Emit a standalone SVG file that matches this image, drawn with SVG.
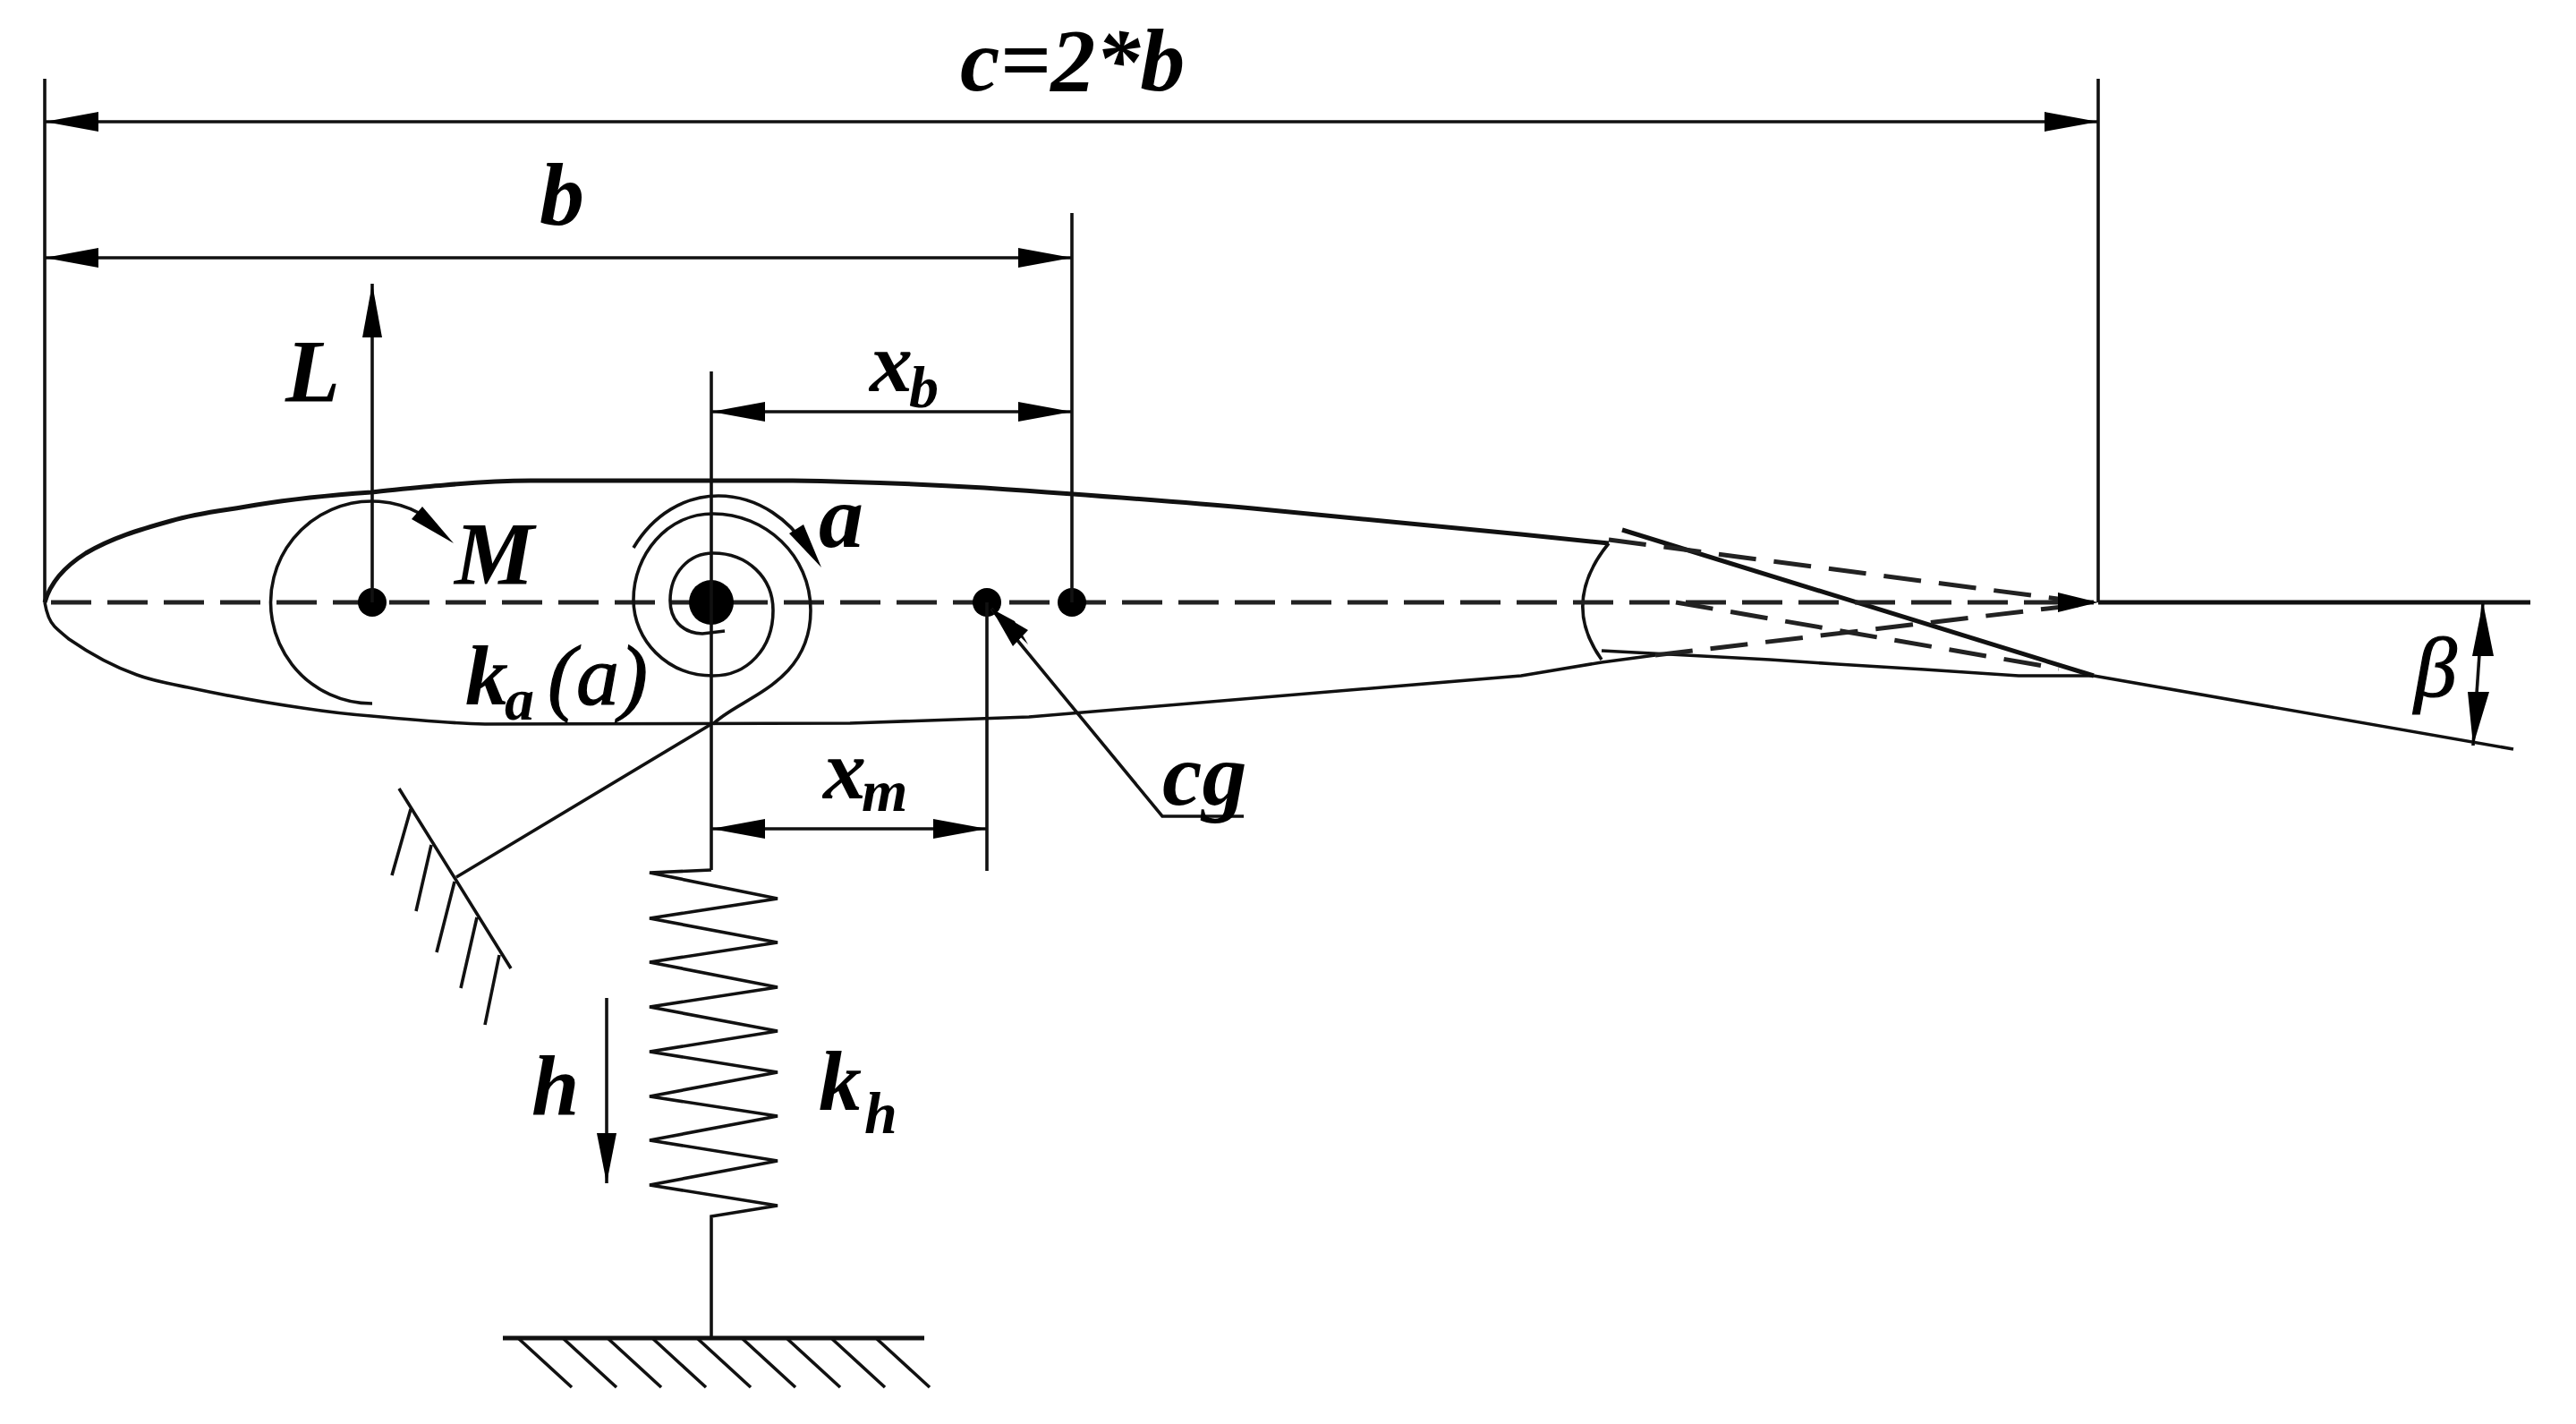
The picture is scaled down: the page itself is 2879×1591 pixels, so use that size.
<svg xmlns="http://www.w3.org/2000/svg" width="2879" height="1591" viewBox="0 0 2879 1591">
<style>
.l{fill:none;stroke:#111;stroke-width:3.6}
.t{fill:none;stroke:#111;stroke-width:5}
.d{fill:none;stroke:#222;stroke-width:5;stroke-dasharray:42 20}
.f{fill:#000;stroke:none}
text{font-family:"Liberation Serif",serif;font-style:italic;font-weight:bold;fill:#000;font-size:100px}
.s{font-size:66px}
.m{font-size:96px}
.n{font-weight:normal;stroke:#000;stroke-width:1.2}
</style>
<defs>
<marker id="a" markerUnits="userSpaceOnUse" markerWidth="60" markerHeight="22" refX="60" refY="11" orient="auto-start-reverse" viewBox="0 0 60 22"><path d="M0 0L60 11L0 22Z" fill="#000"/></marker>
<marker id="c" markerUnits="userSpaceOnUse" markerWidth="56" markerHeight="22" refX="56" refY="11" orient="auto" viewBox="0 0 56 22"><path d="M0 0L56 11L0 22Z" fill="#000"/></marker>
</defs>
<rect width="2879" height="1591" fill="#fff"/>
<g id="airfoil">
<path class="t" d="M50 673C56 652 72 633 96 618C125 601 155 592 191 582C225 572 256 570 287 564C330 557 372 553 415 550C445 547 470 544 497 542C530 539 560 537 593 537L886 537C960 538 1030 541 1100 545C1200 552 1300 559 1400 568L1700 597L1798 607"/>
<path class="l" d="M50 673C52 685 55 694 61 700C66 705 71 709 77 714C100 730 125 744 153 754C172 761 190 764 210 768C252 777 295 785 338 791C364 795 389 798 415 800C457 804 500 808 542 809L950 808L1150 801L1700 755L1790 740L1850 732"/>
</g>
<g id="flap">
<path class="l" d="M1798 607Q1744 673 1790 737"/>
<path class="t" d="M1813 592L2340 755"/>
<path class="l" d="M2340 755L2809 837"/>
<path class="l" d="M1790 727L1903 733L1978 737L2053 742L2151 748L2256 755L2340 755"/>
<path class="d" d="M1798 603L2330 673"/>
<path class="d" d="M1850 732L2330 675"/>
<path class="d" d="M1873 673L2301 747"/>
</g>
<g id="axis">
<path class="d" style="stroke-dasharray:45 18" d="M57 673H2340"/>
<path class="t" d="M2345 673H2828"/>
<path class="f" d="M2345 673L2300 662V684Z"/>
</g>
<g id="moment">
<path class="l" d="M416 786A113 113 0 1 1 470 574"/>
<path class="f" d="M460 580L472 566L507 607Z"/>
</g>
<g id="torsion-spring">
<path class="l" d="M797 809C825 780 906 765 906 682C906 620 855 574 797 574C745 574 708 620 708 670C708 715 745 755 797 755C835 755 864 725 864 682C864 645 835 618 797 618C770 618 749 640 749 671C749 690 760 707 785 708L810 705"/>
<path class="l" d="M708 612C730 575 765 554 803 554C850 554 885 585 900 610"/>
<path class="f" d="M882 596L898 586L918 634Z"/>
</g>
<g id="points">
<circle class="f" cx="416" cy="673" r="16"/>
<circle class="f" cx="795" cy="673" r="25"/>
<circle class="f" cx="1103" cy="673" r="16"/>
<circle class="f" cx="1198" cy="673" r="16"/>
</g>
<g id="side-support">
<path class="l" d="M446 881L571 1082M459 904L438 978M482 944L465 1018M508 985L488 1064M533 1025L515 1104M558 1067L542 1145M510 980L795 809"/>
</g>
<g id="heave-spring">
<path class="l" d="M795 972L726 975L869 1004L726 1026L869 1053L726 1075L869 1103L726 1125L869 1152L726 1175L869 1198L726 1225L869 1247L726 1274L869 1297L726 1324L869 1347L795 1359V1495"/>
</g>
<g id="ground">
<path class="t" d="M562 1495H1033"/>
<path class="l" d="M579 1495L639 1550M629 1495L689 1550M679 1495L739 1550M729 1495L789 1550M779 1495L839 1550M829 1495L889 1550M879 1495L939 1550M929 1495L989 1550M979 1495L1039 1550"/>
</g>
<g id="connectors">
<path class="l" d="M50 88V673M2345 88V673M1198 238V673M795 415V972M1103 673V973"/>
<path class="l" marker-start="url(#a)" marker-end="url(#a)" d="M50 136H2345"/>
<path class="l" marker-start="url(#a)" marker-end="url(#a)" d="M50 288H1198"/>
<path class="l" marker-start="url(#a)" marker-end="url(#a)" d="M795 460H1198"/>
<path class="l" marker-start="url(#a)" marker-end="url(#a)" d="M795 926H1103"/>
<path class="l" marker-end="url(#a)" d="M416 673V317"/>
<path class="l" marker-end="url(#c)" d="M678 1115V1322"/>
<path class="l" d="M1390 912H1299L1108 680"/>
<path class="f" d="M1108 680L1134 694L1149 720Z M1108 680L1149 704L1132 722Z"/>
<path class="l" d="M2775 673L2764 833"/>
<path class="f" d="M2775 673L2763 733H2787Z M2764 833L2758 773H2782Z"/>
</g>
<g id="labels">
<text x="1073" y="101">c=2*b</text>
<text x="603" y="251">b</text>
<text x="319" y="448">L</text>
<text x="508" y="652">M</text>
<text x="915" y="611">a</text>
<text x="972" y="437" class="m">x</text><text x="1016" y="455" class="s">b</text>
<text x="520" y="787" class="m">k</text><text x="564" y="804" class="s">a</text><text x="612" y="787" class="m n">(a)</text>
<text x="920" y="892" class="m">x</text><text x="963" y="906" class="s">m</text>
<text x="1299" y="899">cg</text>
<text x="594" y="1245" class="m">h</text>
<text x="915" y="1240" class="m">k</text><text x="966" y="1266" class="s">h</text>
<text x="2698" y="778" class="m n">β</text>
</g>
</svg>
